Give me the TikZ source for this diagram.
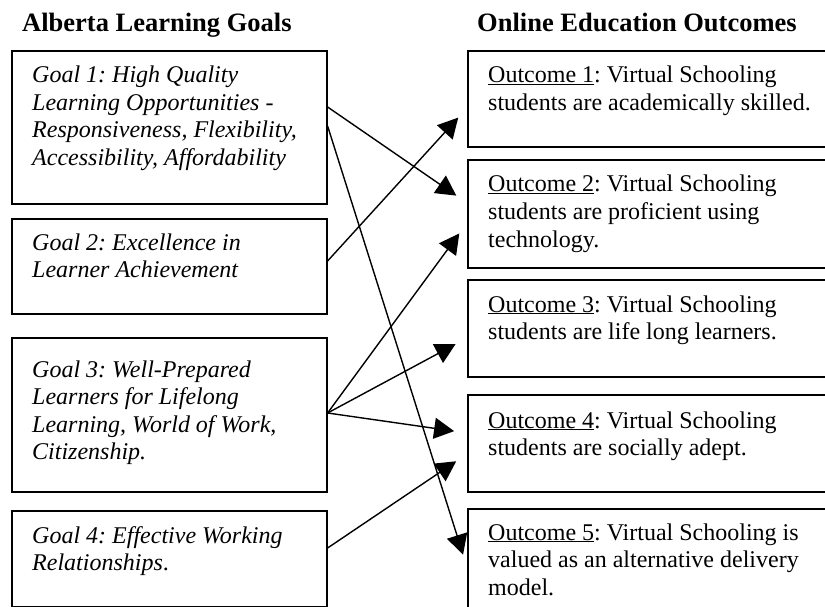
\documentclass[tikz,border=0pt]{standalone}
\usepackage{fontspec}
\setmainfont{Liberation Serif}
\usetikzlibrary{arrows.meta,calc}
\frenchspacing

\tikzset{
  panel/.style={draw, line width=1.6pt, inner sep=0pt, anchor=north west},
  goal/.style={panel, minimum width=315pt},
  outcome/.style={panel, minimum width=363pt},
  heading/.style={anchor=base west, inner sep=0pt, font=\fontsize{26.5}{30}\selectfont\bfseries},
  body/.style={anchor=base west, inner sep=0pt, font=\fontsize{24}{27.5}\selectfont},
  goaltext/.style={body, font=\fontsize{24}{27.5}\selectfont\itshape},
  link/.style={line width=1.4pt, -{Triangle[length=20pt,width=21pt]}, shorten >=13pt},
}
\newcommand{\boxlines}[1]{\parbox[t]{340pt}{\raggedright\frenchspacing #1}}

\begin{document}
\begin{tikzpicture}[x=1pt, y=-1pt]
  \clip (0,0) rectangle (825,607);

  % column headings
  \node[heading] (lefthead)  at (22,32)  {Alberta Learning Goals};
  \node[heading] (righthead) at (477,32) {Online Education Outcomes};

  % goal boxes
  \node[goal, minimum height=153pt] (g1) at (11,50)  {};
  \node[goal, minimum height=95pt]  (g2) at (11,218) {};
  \node[goal, minimum height=154pt] (g3) at (11,337) {};
  \node[goal, minimum height=96pt]  (g4) at (11,510) {};

  \node[goaltext] (g1t) at ($(g1.north west)+(21,33)$) {\boxlines{Goal 1: High Quality\\
    Learning Opportunities -\\ Responsiveness, Flexibility,\\ Accessibility, Affordability}};
  \node[goaltext] (g2t) at ($(g2.north west)+(21,32)$) {\boxlines{Goal 2: Excellence in\\
    Learner Achievement}};
  \node[goaltext] (g3t) at ($(g3.north west)+(21,40)$) {\boxlines{Goal 3: Well-Prepared\\
    Learners for Lifelong\\ Learning, World of Work,\\ Citizenship.}};
  \node[goaltext] (g4t) at ($(g4.north west)+(21,33)$) {\boxlines{Goal 4: Effective Working\\
    Relationships\upshape.}};

  % outcome boxes
  \node[outcome, minimum height=96pt]  (o1) at (467,50)  {};
  \node[outcome, minimum height=108pt] (o2) at (467,159) {};
  \node[outcome, minimum height=97pt]  (o3) at (467,279) {};
  \node[outcome, minimum height=97pt]  (o4) at (467,394) {};
  \node[outcome, minimum height=112pt] (o5) at (467,508) {};

  \node[body] (o1t) at ($(o1.north west)+(21,33)$) {\boxlines{\underline{Outcome 1}: Virtual Schooling\\
    students are academically skilled.}};
  \node[body] (o2t) at ($(o2.north west)+(21,33)$) {\boxlines{\underline{Outcome 2}: Virtual Schooling\\
    students are proficient using\\ technology.}};
  \node[body] (o3t) at ($(o3.north west)+(21,33)$) {\boxlines{\underline{Outcome 3}: Virtual Schooling\\
    students are life long learners.}};
  \node[body] (o4t) at ($(o4.north west)+(21,34)$) {\boxlines{\underline{Outcome 4}: Virtual Schooling\\
    students are socially adept.}};
  \node[body] (o5t) at ($(o5.north west)+(21,32)$) {\boxlines{\underline{Outcome 5}: Virtual Schooling is\\
    valued as an alternative delivery\\ model.}};

  % links from goals to outcomes
  \draw[link] ($(g1.north east)+(0,57)$)  -- ($(o2.north west)+(0,44)$);
  \draw[link] ($(g1.north east)+(0,76)$)  -- ($(o5.north west)+(0,59)$);
  \draw[link] ($(g2.north east)+(0,43)$)  -- ($(o1.north west)+(0,58)$);
  \draw[link] ($(g3.north east)+(0,76)$)  -- ($(o2.north west)+(0,64)$);
  \draw[link] ($(g3.north east)+(0,76)$)  -- ($(o3.north west)+(0,59)$);
  \draw[link] ($(g3.north east)+(0,76)$)  -- ($(o4.north west)+(0,39)$);
  \draw[link] ($(g4.north east)+(0,38)$)  -- ($(o4.north west)+(0,60)$);
\end{tikzpicture}
\end{document}
